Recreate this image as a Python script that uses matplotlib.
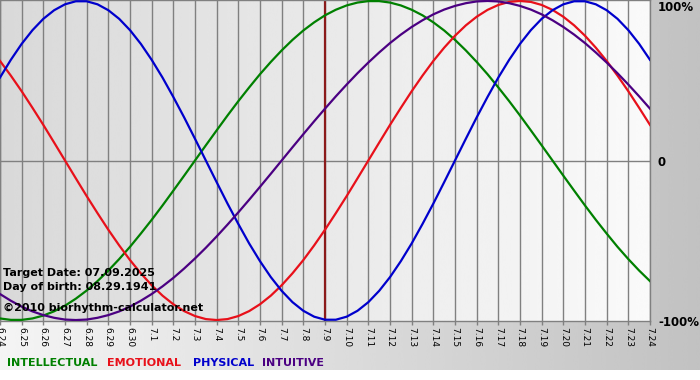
import numpy as np
import matplotlib
matplotlib.use('Agg')
import matplotlib.pyplot as plt

# day labels, 6.24 .. 7.24
dates = ['6.24', '6.25', '6.26', '6.27', '6.28', '6.29', '6.30',
         '7.1', '7.2', '7.3', '7.4', '7.5', '7.6', '7.7', '7.8', '7.9',
         '7.10', '7.11', '7.12', '7.13', '7.14', '7.15', '7.16', '7.17',
         '7.18', '7.19', '7.20', '7.21', '7.22', '7.23', '7.24']

# values every half day (1.0 = 100%)
physical = [0.520, 0.631, 0.731, 0.817, 0.888, 0.942, 0.979, 0.998, 0.998, 0.979,
            0.942, 0.888, 0.817, 0.731, 0.631, 0.520, 0.398, 0.270, 0.136, 0.000,
            -0.136, -0.270, -0.398, -0.520, -0.631, -0.731, -0.817, -0.888, -0.942, -0.979,
            -0.998, -0.998, -0.979, -0.942, -0.888, -0.817, -0.731, -0.631, -0.520, -0.398,
            -0.270, -0.136, 0.000, 0.136, 0.270, 0.398, 0.520, 0.631, 0.731, 0.817,
            0.888, 0.942, 0.979, 0.998, 0.998, 0.979, 0.942, 0.888, 0.817, 0.731,
            0.631]
emotional = [0.624, 0.532, 0.434, 0.330, 0.223, 0.112, 0.000, -0.112, -0.223, -0.330,
             -0.434, -0.532, -0.624, -0.707, -0.782, -0.847, -0.901, -0.944, -0.975, -0.994,
             -1.000, -0.994, -0.975, -0.944, -0.901, -0.847, -0.782, -0.707, -0.624, -0.532,
             -0.434, -0.330, -0.223, -0.112, 0.000, 0.112, 0.223, 0.330, 0.434, 0.532,
             0.624, 0.707, 0.782, 0.847, 0.901, 0.944, 0.975, 0.994, 1.000, 0.994,
             0.975, 0.944, 0.901, 0.847, 0.782, 0.707, 0.624, 0.532, 0.434, 0.330,
             0.223]
intellectual = [-0.990, -0.999, -0.999, -0.990, -0.972, -0.945, -0.910, -0.866, -0.815, -0.756,
                -0.690, -0.618, -0.541, -0.458, -0.372, -0.282, -0.189, -0.095, 0.000, 0.095,
                0.189, 0.282, 0.372, 0.458, 0.541, 0.618, 0.690, 0.756, 0.815, 0.866,
                0.910, 0.945, 0.972, 0.990, 0.999, 0.999, 0.990, 0.972, 0.945, 0.910,
                0.866, 0.815, 0.756, 0.690, 0.618, 0.541, 0.458, 0.372, 0.282, 0.189,
                0.095, 0.000, -0.095, -0.189, -0.282, -0.372, -0.458, -0.541, -0.618, -0.690,
                -0.756]
intuitive = [-0.837, -0.879, -0.916, -0.946, -0.969, -0.986, -0.997, -1.000, -0.997, -0.986,
             -0.969, -0.946, -0.916, -0.879, -0.837, -0.789, -0.736, -0.677, -0.614, -0.547,
             -0.476, -0.402, -0.325, -0.246, -0.165, -0.083, 0.000, 0.083, 0.165, 0.246,
             0.325, 0.402, 0.476, 0.547, 0.614, 0.677, 0.736, 0.789, 0.837, 0.879,
             0.916, 0.946, 0.969, 0.986, 0.997, 1.000, 0.997, 0.986, 0.969, 0.946,
             0.916, 0.879, 0.837, 0.789, 0.736, 0.677, 0.614, 0.547, 0.476, 0.402,
             0.325]

target_date = '7.9'

series = [('INTELLECTUAL', intellectual, '#008000'),
          ('EMOTIONAL', emotional, '#e8101a'),
          ('PHYSICAL', physical, '#0000cc'),
          ('INTUITIVE', intuitive, '#4b0082')]

W, H = 700, 380


def px(x, y):
    """pixel coords -> figure fraction"""
    return x / W, 1 - y / H


fig = plt.figure(figsize=(W / 100, H / 100), dpi=100, facecolor='white')

# outer gradient background (white strip left at the very bottom)
bg = fig.add_axes([0, 10 / H, 1, 370 / H])
bg.imshow(np.linspace(0.96, 0.76, 256)[None, :], aspect='auto', cmap='gray',
          vmin=0, vmax=1, interpolation='bicubic')
bg.axis('off')

ax = fig.add_axes([0, 1 - 321 / H, 650 / W, 321 / H])
ax.set_zorder(2)
days = np.arange(len(dates))
xs = np.linspace(0, len(dates) - 1, len(physical))
ax.set_xlim(0, len(dates) - 1)
ax.set_ylim(-1.006, 1.006)
ax.imshow(np.linspace(0.85, 0.98, 256)[None, :], aspect='auto', cmap='gray',
          vmin=0, vmax=1, extent=[0, len(dates) - 1, -1.006, 1.006],
          interpolation='bicubic', zorder=0)

ax.set_xticks(days)
ax.set_xticklabels(dates, rotation=-90, fontsize=6.5)
ax.set_yticks([])
ax.tick_params(axis='x', length=3, width=1, color='#808080', pad=1.5)
ax.grid(axis='x', color='#808080', lw=1)
ax.axhline(0, color='#808080', lw=1, zorder=1)
for sp in ax.spines.values():
    sp.set_color('#808080')
    sp.set_linewidth(1)

ax.axvline(days[dates.index(target_date)], color='#8b1a1a', lw=1.6, zorder=2)

for name, vals, col in series:
    ax.plot(xs, vals, color=col, lw=1.6, zorder=3)

# right side scale labels
for txt, yb in [('100%', 11), ('0', 166), ('-100%', 326)]:
    fig.text(*px(658, yb), txt, fontsize=8.5, fontweight='bold',
             va='baseline', ha='left', zorder=5)

# info text on the chart
info = [('Target Date: 07.09.2025', 276),
        ('Day of birth: 08.29.1941', 290),
        ('\u00a92010 biorhythm-calculator.net', 311)]
for txt, yb in info:
    fig.text(*px(3, yb), txt, fontsize=8, fontweight='bold', color='black',
             va='baseline', ha='left', zorder=5)

# legend row
legend_x = [7, 107, 193, 262]
for (name, vals, col), lx in zip(series, legend_x):
    fig.text(*px(lx, 366), name, fontsize=8, fontweight='bold', color=col,
             va='baseline', ha='left', zorder=5)

fig.savefig('out.png', dpi=100)
